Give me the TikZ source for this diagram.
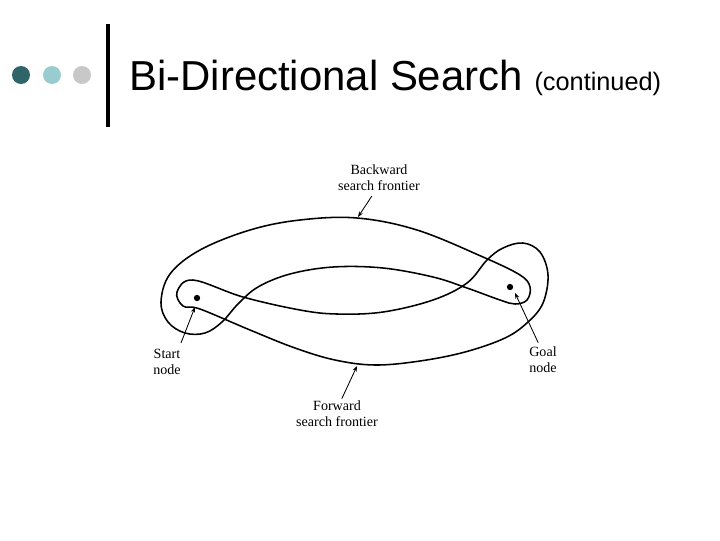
\documentclass[tikz,border=0pt]{standalone}
\usepackage{fontspec}
\setmainfont{Liberation Sans}
\newfontfamily\scanfont{Liberation Serif}
\usetikzlibrary{positioning}
\usetikzlibrary{calc}
\usetikzlibrary{arrows.meta}
\definecolor{puntoscuro}{RGB}{47,100,104}
\definecolor{puntochiaro}{RGB}{153,204,206}
\definecolor{puntogrigio}{RGB}{200,200,200}

\begin{document}
\begin{tikzpicture}[
    x=0.025cm, y=-0.025cm,
    frontiera/.style={line width=1.1pt, line join=round},
    etichetta/.style={font=\scanfont\fontsize{10}{11.5}\selectfont, inner sep=0pt, align=center},
    freccia/.style={-{Stealth[length=4pt,width=3pt]}, line width=0.6pt},
    nodo/.style={circle, fill=black, inner sep=0pt, minimum size=4.5pt},
    pallino/.style={circle, inner sep=0pt, minimum size=12.8pt}]
    \useasboundingbox (0,0) rectangle (720,540);

    % Intestazione
    \node[pallino, fill=puntoscuro] (p1) at (21,75) {};
    \node[pallino, fill=puntochiaro] (p2) at (52,75) {};
    \node[pallino, fill=puntogrigio] (p3) at (82,75) {};
    \draw[line width=2.4pt] (108,24) -- (108,127);
    \node[anchor=base west, inner sep=0pt, font=\fontsize{29.8}{34}\selectfont] (titolo) at (129,90)
        {Bi-Directional Search {\fontsize{18}{22}\selectfont (continued)}};

    % Nodi iniziale e finale
    \node[nodo] (start) at (197,298) {};
    \node[nodo] (goal) at (510,287) {};

    % Frontiera all'indietro (stretta sul goal, larga a sinistra)
    \draw[frontiera] plot[smooth cycle, tension=0.6] coordinates {
        (520,275) (530,287) (527,300) (515,304) (500,300) (467,288) (433,277)
        (383,268) (333,267) (290,274) (258,287) (238,304) (222,322) (205,333)
        (185,333) (168,322) (161,302) (170,274) (200,250) (250,230) (300,220)
        (357,218) (417,230) (483,257)};

    % Frontiera in avanti (stretta sullo start, larga a destra)
    \draw[frontiera] plot[smooth cycle, tension=0.6] coordinates {
        (193,280) (243,297) (300,310) (337,314) (383,312) (433,300) (467,283)
        (487,260) (503,248) (523,243) (540,252) (548,275) (543,303) (528,322)
        (505,338) (465,352) (420,361) (375,365) (335,360) (295,348) (250,330)
        (200,309) (183,306) (177,292)};

    % Punti sulle curve
    \coordinate (pb) at (358,217);
    \coordinate (pf) at (357,366);
    \coordinate (ps) at (195,307);
    \coordinate (pg) at (515,293);

    % Etichette
    \node[etichetta] (back) at (379,178) {Backward\\search frontier};
    \node[etichetta] (forw) at (337,414) {Forward\\search frontier};
    \node[etichetta] (slbl) at (167,362) {Start\\node};
    \node[etichetta] (glbl) at (543,360) {Goal\\node};

    % Frecce
    \draw[freccia] ([xshift=-0.18cm,yshift=-0.12cm]back.south) -- (pb);
    \draw[freccia] ([xshift=0.12cm,yshift=0.05cm]forw.north) -- (pf);
    \draw[freccia] ([xshift=0.35cm,yshift=0.15cm]slbl.north) -- (ps);
    \draw[freccia] ([xshift=-0.12cm,yshift=0.1cm]glbl.north) -- (pg);
\end{tikzpicture}
\end{document}
